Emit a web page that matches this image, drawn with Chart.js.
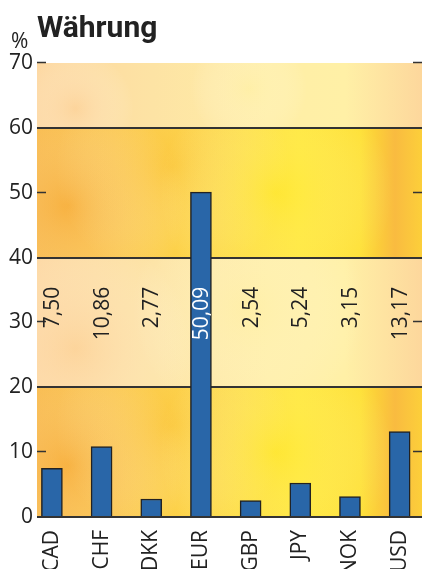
<!DOCTYPE html>
<html>
<head>
<meta charset="utf-8">
<script src="https://cdn.jsdelivr.net/npm/chart.js@4/dist/chart.umd.min.js"></script>
<style>
  html, body { margin: 0; padding: 0; background: #fff; }
  #wrap { width: 422px; height: 569px; position: relative; }
</style>
</head>
<body>
<div id="wrap"><canvas id="chart"></canvas></div>
<script>
// Data
const currencies = ['CAD', 'CHF', 'DKK', 'EUR', 'GBP', 'JPY', 'NOK', 'USD'];
const shares = [7.50, 10.86, 2.77, 50.09, 2.54, 5.24, 3.15, 13.17];
const yTicks = [0, 10, 20, 30, 40, 50, 60, 70];

const FONT = '"Open Sans", "Noto Sans", sans-serif';
const INK = '#222';

// striped, blotchy background bands (0-20, 40-60 warm; 20-40, 60-70 pale)
const bandsPlugin = {
  id: 'bands',
  beforeDraw(chart) {
    const { ctx, chartArea: a, scales: { y } } = chart;
    const bands = [[0, 20, true], [20, 40, false], [40, 60, true], [60, 70, false]];
    ctx.save();
    bands.forEach(([lo, hi, warm]) => {
      const top = y.getPixelForValue(hi), bot = y.getPixelForValue(lo);
      const g = ctx.createLinearGradient(a.left, 0, a.right, 0);
      if (warm) {
        g.addColorStop(0, '#f8b63f');
        g.addColorStop(0.2, '#fbc23d');
        g.addColorStop(0.45, '#fdd53a');
        g.addColorStop(0.68, '#ffe632');
        g.addColorStop(0.84, '#fee033');
        g.addColorStop(0.93, '#f9bb40');
        g.addColorStop(1, '#fccf3a');
      } else {
        g.addColorStop(0, '#fdd7a0');
        g.addColorStop(0.3, '#fde3a4');
        g.addColorStop(0.6, '#ffeea6');
        g.addColorStop(0.8, '#fff0a6');
        g.addColorStop(1, '#fdd79c');
      }
      ctx.fillStyle = g;
      ctx.fillRect(a.left, top, a.right - a.left, bot - top);
      // soft blotches
      ctx.save();
      ctx.beginPath();
      ctx.rect(a.left, top, a.right - a.left, bot - top);
      ctx.clip();
      const spots = warm
        ? [[0.08, 0.6, 'rgba(246,170,66,0.55)'], [0.35, 0.3, 'rgba(250,190,60,0.35)'], [0.62, 0.5, 'rgba(255,236,50,0.45)']]
        : [[0.1, 0.7, 'rgba(252,206,150,0.5)'], [0.55, 0.4, 'rgba(255,242,170,0.45)']];
      spots.forEach(([fx, fy, c]) => {
        const cx = a.left + fx * (a.right - a.left), cy = top + fy * (bot - top);
        const r = (bot - top) * 0.9;
        const rg = ctx.createRadialGradient(cx, cy, 0, cx, cy, r);
        rg.addColorStop(0, c);
        rg.addColorStop(1, 'rgba(255,255,255,0)');
        ctx.fillStyle = rg;
        ctx.fillRect(cx - r, cy - r, 2 * r, 2 * r);
      });
      ctx.restore();
    });
    ctx.restore();
  },
  afterDraw(chart) {
    const { ctx, chartArea: a, scales: { x, y } } = chart;
    ctx.save();
    // short inner tick marks at odd tens
    ctx.strokeStyle = '#333';
    ctx.lineWidth = 1.5;
    yTicks.filter(v => v % 20 !== 0).forEach(v => {
      const py = Math.round(y.getPixelForValue(v)) - 0.5;
      ctx.beginPath();
      ctx.moveTo(a.left, py); ctx.lineTo(a.left + 9, py);
      ctx.moveTo(a.right - 9, py); ctx.lineTo(a.right, py);
      ctx.stroke();
    });
    // value labels, rotated
    ctx.font = '21px ' + FONT;
    ctx.textAlign = 'right';
    ctx.textBaseline = 'middle';
    const labelTop = y.getPixelForValue(35.5);
    shares.forEach((v, i) => {
      const px = x.getPixelForValue(i);
      ctx.save();
      ctx.translate(px, labelTop);
      ctx.rotate(-Math.PI / 2);
      ctx.fillStyle = v > 35.5 ? '#fff' : INK;
      ctx.fillText(v.toFixed(2).replace('.', ','), 0, 1);
      ctx.restore();
    });
    // title and unit
    ctx.fillStyle = INK;
    ctx.textAlign = 'left';
    ctx.textBaseline = 'alphabetic';
    ctx.font = 'bold 30px Roboto, ' + FONT;
    ctx.fillText('Währung', a.left, 37);
    ctx.font = '21px ' + FONT;
    ctx.fillText('%', 11, 48);
    ctx.restore();
  }
};

new Chart(document.getElementById('chart'), {
  type: 'bar',
  data: {
    datasets: [{
      data: shares.map((v, i) => ({ x: i, y: v })),
      backgroundColor: '#2966a8',
      borderColor: '#222',
      borderWidth: 1.5,
      barThickness: 21
    }]
  },
  options: {
    responsive: true,
    maintainAspectRatio: false,
    animation: false,
    layout: { padding: { top: 63, left: 0, right: 0, bottom: 0 } },
    plugins: { legend: { display: false }, tooltip: { enabled: false } },
    scales: {
      x: {
        type: 'linear',
        offset: false,
        min: -0.3,
        max: 7.45,
        afterBuildTicks(scale) { scale.ticks = currencies.map((c, i) => ({ value: i })); },
        afterFit(scale) {
          scale.height = 52;
          scale.paddingLeft = 0;
          scale.paddingRight = 0;
        },
        grid: { display: false, drawTicks: false },
        border: { display: false },
        ticks: {
          autoSkip: false,
          minRotation: 90,
          maxRotation: 90,
          padding: 13,
          color: INK,
          font: { family: FONT, size: 21 },
          callback: v => currencies[v]
        }
      },
      y: {
        min: 0,
        max: 70,
        afterBuildTicks(scale) { scale.ticks = yTicks.map(v => ({ value: v })); },
        afterFit(scale) {
          scale.width = 37;
          scale.paddingTop = 0;
          scale.paddingBottom = 0;
        },
        border: { display: false },
        grid: {
          drawTicks: false,
          lineWidth: 2,
          color: c => (c.tick && c.tick.value % 20 === 0 && c.tick.value < 70) ? '#333' : 'rgba(0,0,0,0)'
        },
        ticks: {
          padding: 4,
          color: INK,
          font: { family: FONT, size: 21 }
        }
      }
    }
  },
  plugins: [bandsPlugin]
});
</script>
</body>
</html>
